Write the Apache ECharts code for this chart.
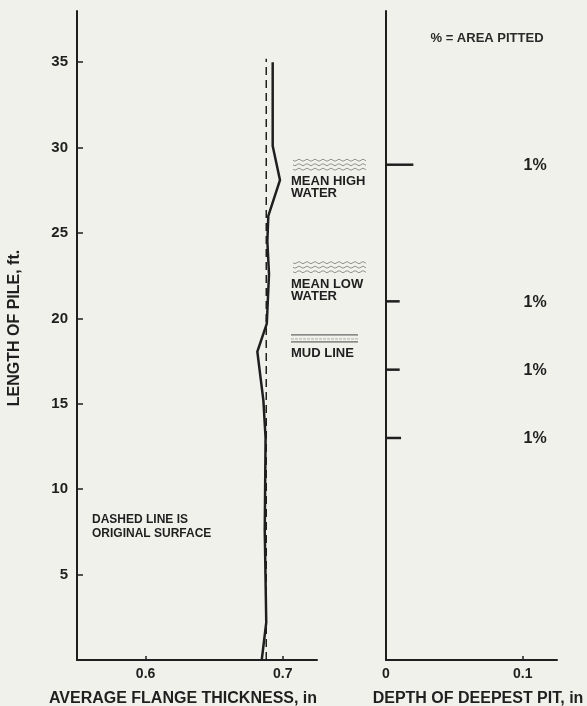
<!DOCTYPE html>
<html>
<head>
<meta charset="utf-8">
<script src="https://cdn.jsdelivr.net/npm/echarts@6/dist/echarts.min.js"></script>
<style>
html,body{margin:0;padding:0;background:#f1f1ec;}
#c{width:587px;height:706px;}
</style>
</head>
<body>
<div id="c"></div>
<script>
// ---- data ----
const lengthFt   = [0, 2.2, 7.6, 13, 15.2, 18.05, 19.7, 22.6, 24.5, 26, 28.1, 30.1, 35];
const thickness  = [0.6847, 0.688, 0.6869, 0.6875, 0.6859, 0.6815, 0.6884, 0.690, 0.6888, 0.6895, 0.698, 0.6927, 0.6927];
const origLength = [0, 35.2];
const origThick  = [0.688, 0.688];
const pitLength  = [29, 21, 17, 13];
const pitDepth   = [0.02, 0.01, 0.01, 0.011];
const pitPct     = ['1%', '1%', '1%', '1%'];
const thickTicks = [0.6, 0.7];
const depthTicks = [0, 0.1];
const annotLabels = ['MEAN HIGH\nWATER', 'MEAN LOW\nWATER', 'MUD LINE'];
const annotLevels = [29, 23, 18.8];
const annotKinds  = ['wave', 'wave', 'flat'];

const FONT = '"Liberation Sans", Arial, Helvetica, sans-serif';
const INK = '#1f1f1f';
const PCT_X = 0.109;

const chart = echarts.init(document.getElementById('c'), null, {renderer: 'canvas'});

const axisLine = {show: true, lineStyle: {color: INK, width: 2}};

const option = {
  backgroundColor: '#f1f1ec',
  animation: false,
  grid: [
    {left: 77, top: 11, width: 240, height: 649, containLabel: false},
    {left: 386, top: 11, width: 171, height: 649, containLabel: false}
  ],
  xAxis: [
    {
      gridIndex: 0, type: 'value', min: 0.55, max: 0.725,
      axisLine: axisLine,
      axisTick: {show: true, inside: true, length: 4, customValues: thickTicks, lineStyle: {color: INK, width: 1.5}},
      axisLabel: {customValues: thickTicks, margin: 7, color: INK, fontSize: 14, fontWeight: 'bold', fontFamily: FONT,
                  formatter: v => v.toFixed(1)},
      splitLine: {show: false}
    },
    {
      gridIndex: 1, type: 'value', min: 0, max: 0.125,
      axisLine: axisLine,
      axisTick: {show: true, inside: true, length: 4, customValues: depthTicks, lineStyle: {color: INK, width: 1.5}},
      axisLabel: {customValues: depthTicks, margin: 7, color: INK, fontSize: 14, fontWeight: 'bold', fontFamily: FONT,
                  formatter: v => v === 0 ? '0' : v.toFixed(1)},
      splitLine: {show: false}
    }
  ],
  yAxis: [
    {
      gridIndex: 0, type: 'value', min: 0, max: 38, interval: 5,
      axisLine: axisLine,
      axisTick: {show: true, inside: true, length: 6, lineStyle: {color: INK, width: 1.5}},
      axisLabel: {showMinLabel: false, showMaxLabel: false, margin: 9, color: INK, fontSize: 15, fontWeight: 'bold', fontFamily: FONT,
                  formatter: v => (v > 0 && v % 5 === 0) ? String(v) : ''},
      splitLine: {show: false}
    },
    {
      gridIndex: 1, type: 'value', min: 0, max: 38, interval: 5,
      axisLine: axisLine,
      axisTick: {show: false},
      axisLabel: {show: false},
      splitLine: {show: false}
    }
  ],
  series: [
    {
      type: 'line', xAxisIndex: 0, yAxisIndex: 0, symbol: 'none',
      data: origThick.map((x, i) => [x, origLength[i]]),
      lineStyle: {color: INK, width: 1.5, type: [8, 5]}
    },
    {
      type: 'line', xAxisIndex: 0, yAxisIndex: 0, symbol: 'none',
      data: thickness.map((x, i) => [x, lengthFt[i]]),
      lineStyle: {color: INK, width: 2.5}
    },
    {
      type: 'custom', xAxisIndex: 1, yAxisIndex: 1,
      data: pitDepth.map((d, i) => [d, pitLength[i]]),
      renderItem: function (params, api) {
        const d = api.value(0), y = api.value(1);
        const p0 = api.coord([0, y]);
        const p1 = api.coord([d, y]);
        const pt = api.coord([PCT_X, y]);
        return {
          type: 'group',
          children: [
            {type: 'line', shape: {x1: p0[0], y1: p0[1], x2: p1[0], y2: p1[1]},
             style: {stroke: INK, lineWidth: 2.5}},
            {type: 'text', x: pt[0], y: pt[1] + 1,
             style: {text: pitPct[params.dataIndex], fill: INK, font: 'bold 16px ' + FONT,
                     align: 'center', verticalAlign: 'middle'}}
          ]
        };
      }
    }
  ]
};
chart.setOption(option);

// ---- annotations ----
const g = [];
function wave(x0, x1, yc) {
  const pts = [];
  for (let x = x0; x <= x1; x += 1) pts.push([x, yc + 0.9 * Math.sin((x - x0) * 2 * Math.PI / 8)]);
  return {type: 'polyline', shape: {points: pts}, style: {stroke: '#7a7a7a', lineWidth: 0.8, fill: null}, silent: true};
}
annotLabels.forEach((lab, i) => {
  const yc = chart.convertToPixel({gridIndex: 0}, [0.7, annotLevels[i]])[1];
  const x0 = 291;
  if (annotKinds[i] === 'wave') {
    g.push(wave(x0 + 2, 366, yc - 4.5));
    g.push(wave(x0 + 2, 366, yc));
    g.push(wave(x0 + 2, 366, yc + 4.5));
    g.push({type: 'text', x: x0, y: yc + 11,
            style: {text: lab, fill: INK, font: 'bold 13px ' + FONT, lineHeight: 12, verticalAlign: 'top'}});
  } else {
    g.push({type: 'line', shape: {x1: x0, y1: yc - 4, x2: 358, y2: yc - 4}, style: {stroke: '#444', lineWidth: 1}});
    g.push({type: 'line', shape: {x1: x0, y1: yc, x2: 358, y2: yc}, style: {stroke: '#999', lineWidth: 0.8, lineDash: [3, 1]}});
    g.push({type: 'line', shape: {x1: x0, y1: yc + 3, x2: 358, y2: yc + 3}, style: {stroke: '#444', lineWidth: 1}});
    g.push({type: 'text', x: x0, y: yc + 8,
            style: {text: lab, fill: INK, font: 'bold 13px ' + FONT, verticalAlign: 'top'}});
  }
});
const noteY = chart.convertToPixel({gridIndex: 0}, [0.6, 8.6])[1];
g.push({type: 'text', x: 92, y: noteY,
        style: {text: 'DASHED LINE IS\nORIGINAL SURFACE', fill: INK, font: 'bold 12px ' + FONT, lineHeight: 14, verticalAlign: 'top'}});
g.push({type: 'text', x: 487, y: 38,
        style: {text: '% = AREA PITTED', fill: '#2a2a2a', font: 'bold 13px ' + FONT, align: 'center', verticalAlign: 'middle'}});
g.push({type: 'text', x: 183, y: 699,
        style: {text: 'AVERAGE FLANGE THICKNESS, in', fill: INK, font: 'bold 16px ' + FONT, align: 'center', verticalAlign: 'middle'}});
g.push({type: 'text', x: 478, y: 699,
        style: {text: 'DEPTH OF DEEPEST PIT, in', fill: INK, font: 'bold 16px ' + FONT, align: 'center', verticalAlign: 'middle'}});
g.push({type: 'text', x: 15, y: 328, rotation: Math.PI / 2,
        style: {text: 'LENGTH OF PILE, ft.', fill: INK, font: 'bold 16px ' + FONT, align: 'center', verticalAlign: 'middle'}});
chart.setOption({graphic: g});
</script>
</body>
</html>
